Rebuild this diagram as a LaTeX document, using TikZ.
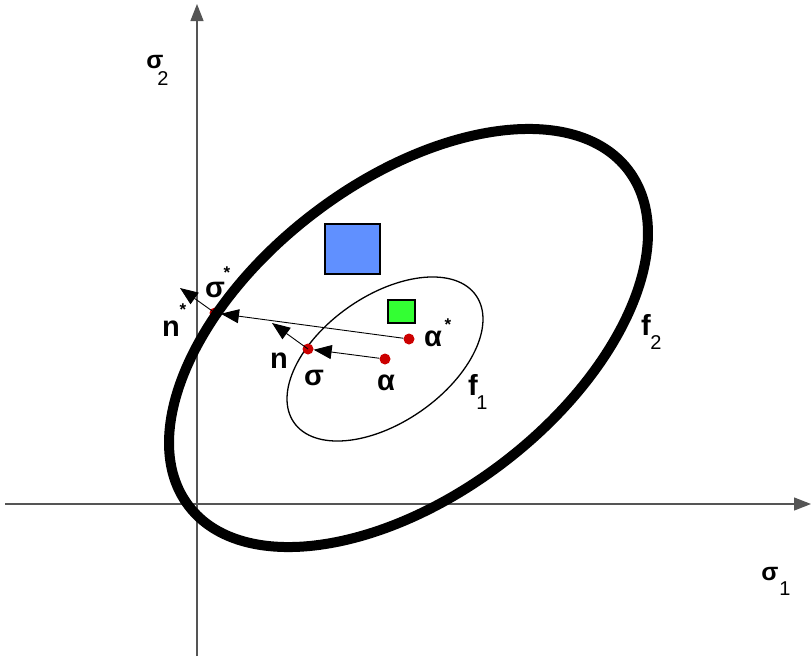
\documentclass[tikz,border=0pt]{standalone}
\usepackage{fontspec}
\setmainfont{Liberation Sans}
\usetikzlibrary{arrows.meta}
\definecolor{dotred}{HTML}{CC0000}
\definecolor{sqblue}{HTML}{6090FF}
\definecolor{sqgreen}{HTML}{33FF33}
\definecolor{axisgray}{HTML}{555555}
\begin{document}
\begin{tikzpicture}[x=1pt,y=1pt,
  axis/.style={draw=axisgray,line width=1.3pt,-{Triangle[length=17pt,width=13pt]}},
  arr/.style={draw=black,line width=0.9pt,-{Triangle[length=18pt,width=14pt]}},
  dot/.style={circle,fill=dotred,inner sep=0pt,minimum size=11pt},
  big/.style={font=\bfseries\fontsize{29}{29}\selectfont,inner sep=0pt},
  axl/.style={font=\bfseries\fontsize{25}{25}\selectfont,inner sep=0pt},
  sub/.style={font=\fontsize{20}{20}\selectfont,inner sep=0pt},
  sup/.style={font=\bfseries\fontsize{17}{17}\selectfont,inner sep=0pt},
  sq/.style={draw=black,line width=2pt}]
\useasboundingbox (0,0) rectangle (811,-656);
% axes
\coordinate (yb) at (197,-656);
\coordinate (yt) at (197,-4);
\coordinate (xl) at (5,-504);
\coordinate (xr) at (811,-504);
\draw[axis] (yb) -- (yt);
\draw[axis] (xl) -- (xr);
% squares
\node[sq,fill=sqblue,minimum width=55pt,minimum height=50pt,inner sep=0pt] (blue) at (352,-249) {};
\node[sq,fill=sqgreen,minimum width=27pt,minimum height=23pt,inner sep=0pt] (green) at (401,-311) {};
% small ellipse
\draw[line width=1.3pt,rotate around={34.9:(385,-359)}] (385,-359) ellipse [x radius=111, y radius=63.3];
% dots
\node[dot] (sstar) at (215,-313) {};
\node[dot] (sigma) at (308,-349) {};
\node[dot] (alpha) at (385,-359) {};
\node[dot] (astar) at (409,-339) {};
% big ellipse
\draw[line width=10pt,rotate around={37.4:(408.5,-338)}] (408.5,-338) ellipse [x radius=276.6, y radius=156.6];
% arrows
\coordinate (ntip) at (272,-323);
\coordinate (nstip) at (180,-288);
\draw[arr] (alpha) -- (sigma);
\draw[arr,shorten >=6pt] (astar) -- (sstar.center);
\draw[arr] (sigma.center) -- (ntip);
\draw[arr] (sstar.center) -- (nstip);
% labels
\node[axl] (s2) at (155,-62) {σ};
\node[sub] (s2i) at (163,-79) {2};
\node[axl] (s1) at (770,-574) {σ};
\node[sub] (s1i) at (785,-589) {1};
\node[big] (f2) at (646,-325) {f};
\node[sub] (f2i) at (656,-343) {2};
\node[big] (f1) at (473,-385) {f};
\node[sub] (f1i) at (482,-403) {1};
\node[big] (la) at (386,-383) {α};
\node[big] (ls) at (314,-378) {σ};
\node[big] (ln) at (279,-361) {n};
\node[big] (las) at (433,-339) {α};
\node[sup] (lasx) at (448,-325) {*};
\node[big] (lss) at (215,-290) {σ};
\node[sup] (lssx) at (227,-273) {*};
\node[big] (lns) at (171,-329) {n};
\node[sup] (lnsx) at (183,-310) {*};
\end{tikzpicture}
\end{document}
